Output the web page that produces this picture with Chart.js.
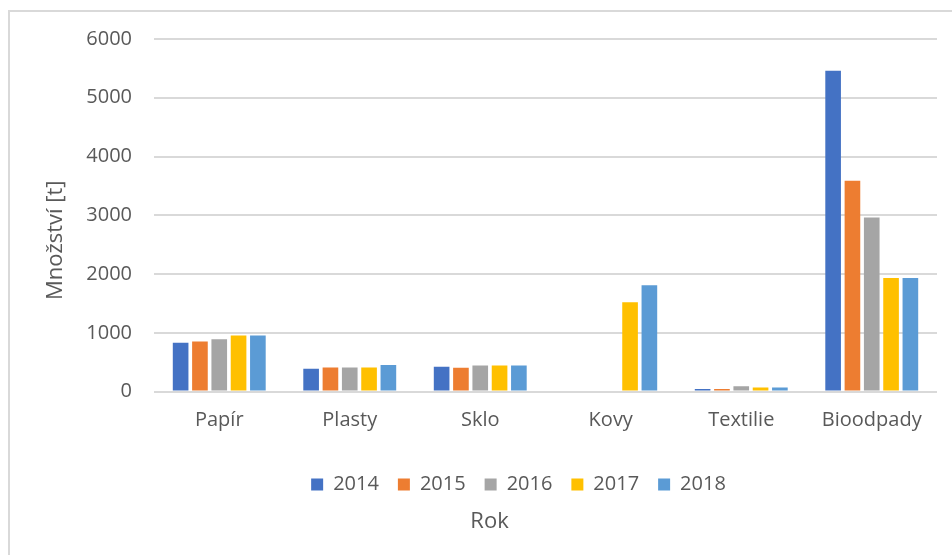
<!DOCTYPE html>
<html>
<head>
<meta charset="utf-8">
<script src="https://cdn.jsdelivr.net/npm/chart.js@4.4.1/dist/chart.umd.min.js"></script>
<style>
    html, body { margin: 0; padding: 0; background: #fff; overflow: hidden; }
    #ramec { position: absolute; left: 8px; top: 10px; width: 950px; height: 550px; border-left: 2px solid #d9d9d9; border-top: 2px solid #d9d9d9; }
    #obal { position: absolute; left: 0; top: 0; width: 952px; height: 555px; }
</style>
</head>
<body>
<div id="ramec"></div>
<div id="obal"><canvas id="grafOdpady"></canvas></div>
<script>
// DATA
const kategorie = ['Papír', 'Plasty', 'Sklo', 'Kovy', 'Textilie', 'Bioodpady'];
const roky = ['2014', '2015', '2016', '2017', '2018'];
const barvy = ['#4472C4', '#ED7D31', '#A5A5A5', '#FFC000', '#5B9BD5'];

const hodnoty2014 = [832, 387, 423, null, 46, 5460];
const hodnoty2015 = [851, 410, 406, null, 46, 3590];
const hodnoty2016 = [890, 410, 446, null, 91, 2963];
const hodnoty2017 = [953, 410, 446, 1520, 69, 1932];
const hodnoty2018 = [953, 451, 446, 1811, 69, 1932];

const osaYMin = 0;
const osaYMax = 6000;
const osaYKrok = 1000;
const nazevOsyY = 'Množství [t]';
const nazevOsyX = 'Rok';

const vsechnyHodnoty = [hodnoty2014, hodnoty2015, hodnoty2016, hodnoty2017, hodnoty2018];

const sedaText = '#595959';
const pismo = "'Open Sans', sans-serif";

let datasety = roky.map((rok, i) => ({
    label: rok,
    data: vsechnyHodnoty[i],
    backgroundColor: barvy[i],
    borderWidth: 0,
    categoryPercentage: 0.74,
    barPercentage: 0.81
}));

// posune legendu trochu doprava, jako v Excelu
const posunLegendy = {
    id: 'posunLegendy',
    afterLayout(chart) {
        chart.legend.left += 58;
    }
};

// nazev osy Y - Excel ho ma trochu niz nez stred osy
const popisOsyY = {
    id: 'popisOsyY',
    afterDraw(chart) {
        let c = chart.ctx;
        let osa = chart.scales.y;
        c.save();
        c.translate(56, (osa.top + osa.bottom) / 2 + 25);
        c.rotate(-Math.PI / 2);
        c.fillStyle = sedaText;
        c.font = `22px ${pismo}`;
        c.textAlign = 'center';
        c.textBaseline = 'middle';
        c.fillText(nazevOsyY, 0, 0);
        c.restore();
    }
};

let ctx = document.getElementById('grafOdpady').getContext('2d');

new Chart(ctx, {
    type: 'bar',
    data: { labels: kategorie, datasets: datasety },
    plugins: [posunLegendy, popisOsyY],
    options: {
        responsive: true,
        maintainAspectRatio: false,
        animation: false,
        layout: { padding: { left: 42, right: 15, top: 39, bottom: 16 } },
        plugins: {
            tooltip: { enabled: false },
            legend: {
                position: 'bottom',
                title: { display: true, text: '', font: { size: 1, lineHeight: 1 }, padding: { top: 13, bottom: 0 } },
                labels: {
                    boxWidth: 12,
                    boxHeight: 12,
                    padding: 19,
                    color: sedaText,
                    font: { family: pismo, size: 20 }
                }
            },
            title: {
                display: true,
                position: 'bottom',
                text: nazevOsyX,
                color: sedaText,
                font: { family: pismo, size: 22, weight: 'normal' },
                padding: { top: 4, bottom: 4 }
            }
        },
        scales: {
            x: {
                grid: { display: false },
                border: { display: false },
                ticks: { color: sedaText, font: { family: pismo, size: 20 }, padding: 9 }
            },
            y: {
                min: osaYMin,
                max: osaYMax,
                afterFit(osa) { osa.width = 112; },
                grid: { color: '#d9d9d9', lineWidth: 2, drawTicks: false },
                border: { display: false },
                ticks: {
                    stepSize: osaYKrok,
                    color: sedaText,
                    font: { family: pismo, size: 20 },
                    padding: 22,
                    callback: v => String(v)
                },
                title: { display: false }
            }
        }
    }
});
</script>
</body>
</html>
